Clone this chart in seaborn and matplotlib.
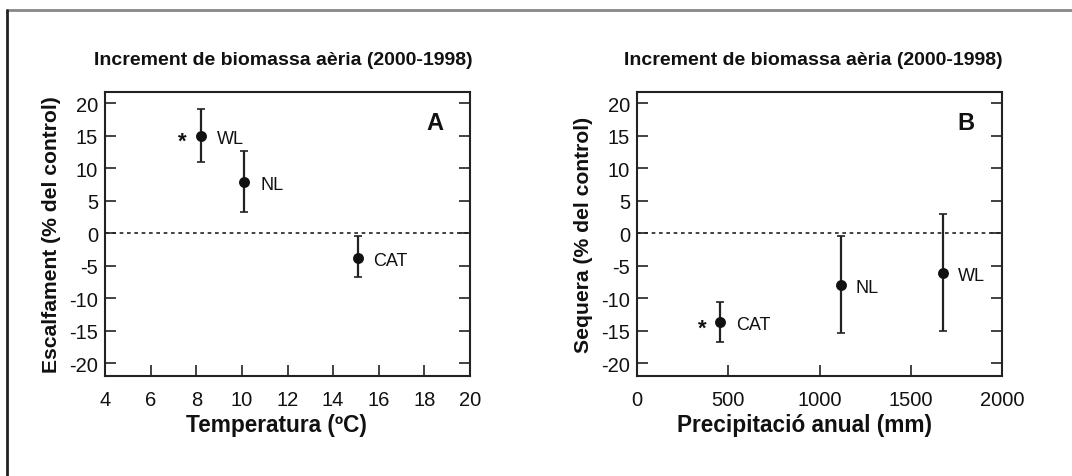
import matplotlib
matplotlib.use("Agg")
import matplotlib.pyplot as plt
import seaborn as sns
import pandas as pd
from matplotlib.lines import Line2D

sns.set_theme(style="white")
plt.rcParams['font.family'] = ['Liberation Sans', 'DejaVu Sans']

# Panel A data
sites_a = ["WL", "NL", "CAT"]
temp_a = [8.2, 10.1, 15.1]
warm_a = [14.9, 7.8, -3.8]
warm_err_lo = [4.0, 4.6, 2.9]
warm_err_hi = [4.2, 4.8, 3.4]
label_x_a = [8.9, 10.8, 15.75]
star_a = (7.4, 14.9)

# Panel B data
sites_b = ["CAT", "NL", "WL"]
prec_b = [455, 1119, 1679]
drought_b = [-13.7, -8.0, -6.2]
drought_err_lo = [3.1, 7.4, 8.8]
drought_err_hi = [3.1, 7.6, 9.2]
label_x_b = [541, 1195, 1757]
star_b = (358, -13.9)

title = "Increment de biomassa aèria (2000-1998)"
yticks = [-20, -15, -10, -5, 0, 5, 10, 15, 20]

fig = plt.figure(figsize=(10.72, 4.77), dpi=100)
W, H = 1072, 477
axA = fig.add_axes([105/W, 1-377/H, 365/W, 284/H])
axB = fig.add_axes([637/W, 1-377/H, 365/W, 284/H])

def style(ax, xlim, xticks, ylabel, xlabel, letter, letter_x, xl_shift, t_shift):
    ax.set_xlim(*xlim)
    ax.set_ylim(-22.0, 21.7)
    ax.set_yticks(yticks)
    ax.set_yticklabels([str(v) for v in yticks], fontsize=14.5)
    ax.set_xticks(xticks)
    ax.set_xticklabels([str(v) for v in xticks], fontsize=14.5)
    ax.tick_params(axis='both', direction='in', length=8, width=1.2, color='#222222',
                   labelcolor='#111111')
    ax.tick_params(axis='y', right=True, left=True, pad=5)
    ax.tick_params(axis='x', bottom=True, top=False, pad=10)
    for s in ax.spines.values():
        s.set_visible(True)
        s.set_color('#222222')
        s.set_linewidth(1.5)
    ax.axhline(0, color='#222222', lw=1.2, ls=(0, (2.2, 2.2)), zorder=1)
    ax.set_ylabel(ylabel, fontsize=15.2, fontweight='bold', color='#111111', labelpad=6)
    ax.set_xlabel(xlabel, fontsize=16.3, fontweight='bold', color='#111111', labelpad=4)
    ax.xaxis.set_label_coords(0.5 + xl_shift, -0.13)
    ax.set_title(title, fontsize=14, fontweight='bold', color='#111111', pad=20)
    ax.title.set_x(0.5 + t_shift)
    ax.text(letter_x, 17.0, letter, fontsize=17, fontweight='bold', color='#111111',
            ha='center', va='center')
    ax.grid(False)

dfA = pd.DataFrame({"site": sites_a, "x": temp_a, "y": warm_a})
dfB = pd.DataFrame({"site": sites_b, "x": prec_b, "y": drought_b})

for ax, df, lo, hi, lx, star in [
    (axA, dfA, warm_err_lo, warm_err_hi, label_x_a, star_a),
    (axB, dfB, drought_err_lo, drought_err_hi, label_x_b, star_b),
]:
    ax.errorbar(df["x"], df["y"], yerr=[lo, hi], fmt='none', ecolor='#222222',
                elinewidth=1.6, capsize=2.6, capthick=1.2, zorder=2)
    sns.scatterplot(data=df, x="x", y="y", ax=ax, color='#111111', s=62,
                    edgecolor='#111111', linewidth=0, zorder=3, legend=False)
    for s, x, y in zip(df["site"], lx, df["y"]):
        ax.text(x, y - 0.4, s, fontsize=13, color='#111111', ha='left', va='center')
    ax.text(star[0], star[1] - 0.7, "*", fontsize=16, fontweight='bold', color='#111111',
            ha='center', va='center')

style(axA, (4, 20), [4, 6, 8, 10, 12, 14, 16, 18, 20], "Escalfament (% del control)",
      "Temperatura (ºC)", "A", 18.45, -0.03, -0.012)
style(axB, (0, 2000), [0, 500, 1000, 1500, 2000], "Sequera (% del control)",
      "Precipitació anual (mm)", "B", 1800, -0.04, -0.016)

# frame lines
fig.add_artist(Line2D([6.5/W, 1.0], [1-10.5/H, 1-10.5/H], transform=fig.transFigure,
                      color='#888888', lw=2))
fig.add_artist(Line2D([6.5/W, 6.5/W], [0, 1-10.5/H], transform=fig.transFigure,
                      color='#222222', lw=2))

fig.savefig("out.png", dpi=100)
